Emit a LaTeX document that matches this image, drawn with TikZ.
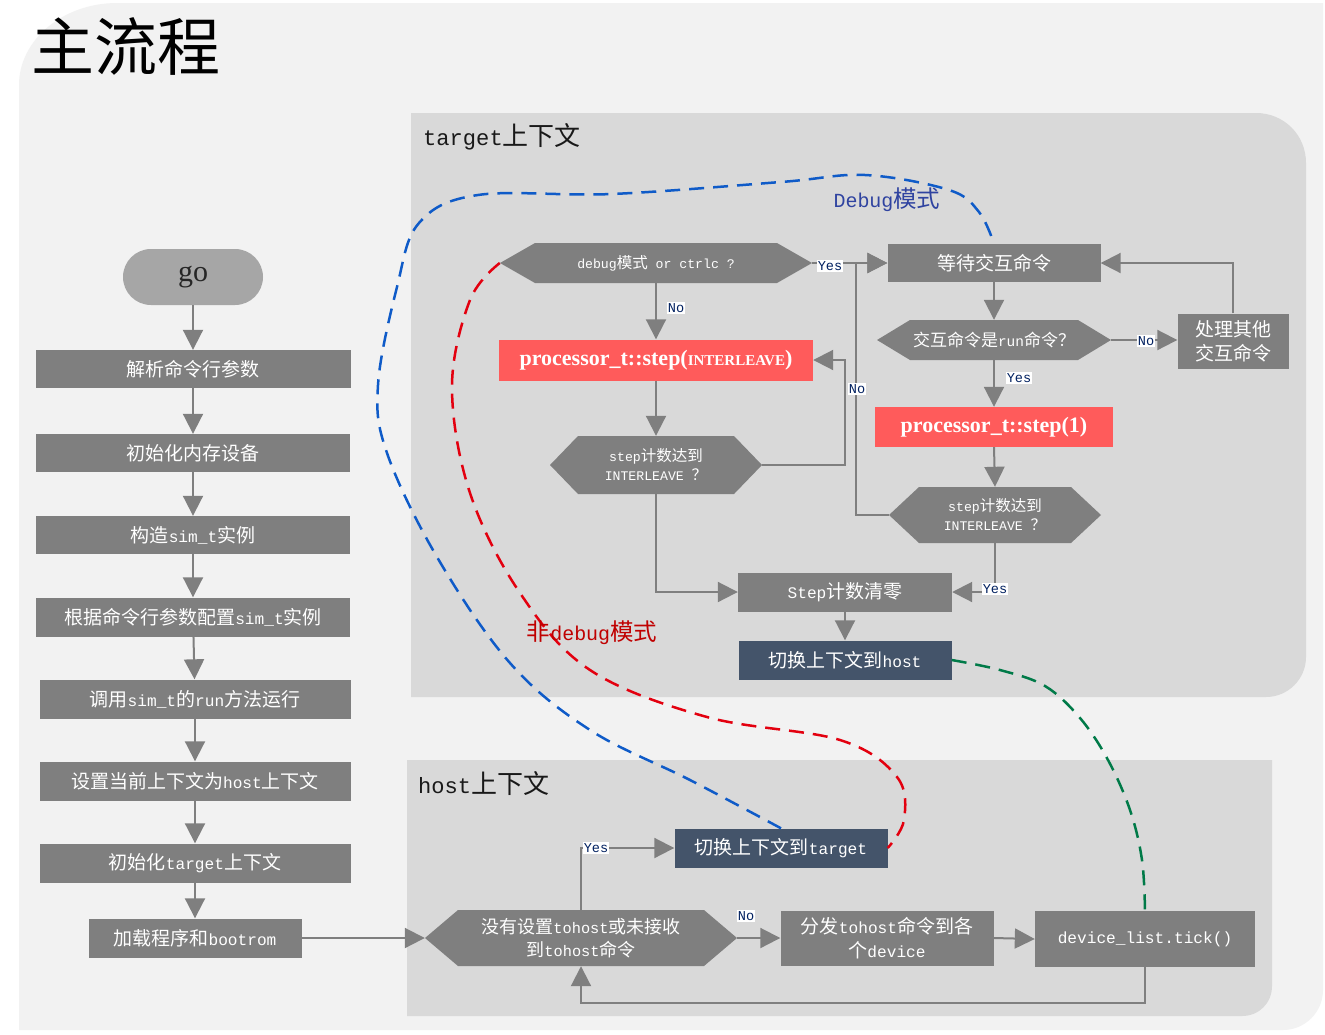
\documentclass[tikz,border=0pt]{standalone}
\usepackage{fontspec}
\setmainfont{Liberation Mono}[Scale=0.85]
\newfontfamily\cjk{Noto Sans CJK SC}
\newfontfamily\serifr{Liberation Serif}
\usetikzlibrary{arrows.meta}
% automatic CJK font switching
\XeTeXinterchartokenstate=1
\newXeTeXintercharclass\CJKcls
\count255="3000
\loop\ifnum\count255<"3040 \XeTeXcharclass\count255=\CJKcls \advance\count255 by 1 \repeat
\count255="4E00
\loop\ifnum\count255<"A000 \XeTeXcharclass\count255=\CJKcls \advance\count255 by 1 \repeat
\count255="FF00
\loop\ifnum\count255<"FF70 \XeTeXcharclass\count255=\CJKcls \advance\count255 by 1 \repeat
\XeTeXinterchartoks 0 \CJKcls = {\cjk}
\XeTeXinterchartoks 4095 \CJKcls = {\cjk}
\XeTeXinterchartoks \CJKcls 0 = {\rmfamily}
\XeTeXinterchartoks \CJKcls 4095 = {\rmfamily}

\definecolor{outerbg}{HTML}{F2F2F2}
\definecolor{panel}{HTML}{D9D9D9}
\definecolor{boxgray}{HTML}{7F7F7F}
\definecolor{linegray}{HTML}{7F7F7F}
\definecolor{redfill}{HTML}{FF5B5B}
\definecolor{darkblue}{HTML}{44546A}
\definecolor{pillgray}{HTML}{A6A6A6}
\definecolor{dblue}{HTML}{0F5BC8}
\definecolor{dred}{HTML}{E3000F}
\definecolor{dgreen}{HTML}{007A48}
\definecolor{lblblue}{HTML}{2F43A0}
\definecolor{lblred}{HTML}{C00000}
\definecolor{ynblue}{HTML}{002060}

\newcommand\hexnode[8]{%
  \fill[boxgray] (#3-#5,#4) -- (#3-#5+#7,#4-#6) -- (#3+#5-#7,#4-#6) -- (#3+#5,#4)
     -- (#3+#5-#7,#4+#6) -- (#3-#5+#7,#4+#6) -- cycle;
  \pgfmathsetmacro\hexw{2*#5}\pgfmathsetmacro\hexh{2*#6}%
  \node[hextext, font=#1, minimum width=\hexw pt, minimum height=\hexh pt] (#2) at (#3,#4) {#8};}

\begin{document}
\begin{tikzpicture}[x=1pt,y=-1pt,
  box/.style={fill=boxgray, text=white, inner sep=2pt, align=center,
    font=\fontsize{19}{24}\selectfont},
  redbox/.style={box, fill=redfill},
  bluebox/.style={box, fill=darkblue},
  hextext/.style={text=white, inner sep=0pt, align=center},
  pill/.style={fill=pillgray, rounded corners=28pt, minimum width=140pt, minimum height=56pt,
    font=\serifr\fontsize{30}{30}\selectfont, text=black!85},
  conn/.style={draw=linegray, line width=2pt, -{Triangle[length=20pt,width=20pt]}},
  yn/.style={fill=white, text=ynblue, inner sep=1pt, font=\fontsize{16}{16}\selectfont},
  ctxtitle/.style={anchor=west, inner sep=0pt, text=black!90, font=\fontsize{26}{26}\selectfont},
  dashblue/.style={draw=dblue, line width=2.5pt, dash pattern=on 15pt off 9pt},
  dashred/.style={draw=dred, line width=2.5pt, dash pattern=on 15pt off 9pt},
  dashgreen/.style={draw=dgreen, line width=2.5pt, dash pattern=on 15pt off 9pt},
]
\useasboundingbox (0,0) rectangle (1325,1034);
\fill[white] (0,0) rectangle (1325,1034);
% outer panel
\fill[outerbg] (19,85) .. controls (19,40) and (63,3) .. (117,3) -- (1323,3) -- (1323,990)
   .. controls (1323,1012) and (1305,1030) .. (1283,1030) -- (19,1030) -- cycle;
% target panel
\fill[panel] (411,113) -- (1256,113) .. controls (1284,113) and (1306,135) .. (1306,163)
   -- (1306,657) .. controls (1306,679) and (1288,697) .. (1266,697) -- (411,697) -- cycle;
% host panel
\fill[panel] (407,760) -- (1272,760) -- (1272,986) .. controls (1272,1003) and (1259,1016) .. (1242,1016)
   -- (407,1016) -- cycle;

% titles
\node[anchor=west, inner sep=0pt, text=black, font=\fontsize{63}{63}\selectfont] (title) at (31,46) {主流程};
\node[ctxtitle] (tgttitle) at (423,137) {target上下文};
\node[ctxtitle] (hosttitle) at (418,784) {host上下文};

% main column
\node[pill] (go) at (193,277) {go};
\node[box, minimum width=315pt, minimum height=38pt] (n1) at (193,369) {解析命令行参数};
\node[box, minimum width=314pt, minimum height=38pt] (n2) at (193,453) {初始化内存设备};
\node[box, minimum width=314pt, minimum height=38pt] (n3) at (193,535) {构造sim\_t实例};
\node[box, minimum width=314pt, minimum height=39pt] (n4) at (193,617) {根据命令行参数配置sim\_t实例};
\node[box, minimum width=311pt, minimum height=39pt] (n5) at (195,699) {调用sim\_t的run方法运行};
\node[box, minimum width=311pt, minimum height=39pt] (n6) at (195,781) {设置当前上下文为host上下文};
\node[box, minimum width=311pt, minimum height=39pt] (n7) at (195,863) {初始化target上下文};
\node[box, minimum width=213pt, minimum height=39pt] (n8) at (195,938) {加载程序和bootrom};

% target context
\hexnode{\fontsize{15.5}{19}\selectfont}{d1}{656}{263}{156}{20}{35}{debug模式 or ctrlc ?}
\node[redbox, minimum width=314pt, minimum height=41pt, font=\serifr\bfseries\fontsize{22}{22}\selectfont] (p1) at (656,360)
  {processor\_t::step({\fontsize{15}{15}\selectfont INTERLEAVE})};
\hexnode{\fontsize{15.5}{19}\selectfont}{s1}{656}{465}{106}{29}{28}{step计数达到\\INTERLEAVE ？}
\node[box, minimum width=213pt, minimum height=38pt] (wait) at (994,263) {等待交互命令};
\hexnode{\fontsize{17}{20}\selectfont}{q}{994}{340}{117}{20}{33}{交互命令是run命令？}
\node[box, minimum width=111pt, minimum height=55pt] (other) at (1233,341) {处理其他\\交互命令};
\node[redbox, minimum width=238pt, minimum height=40pt, font=\serifr\bfseries\fontsize{22}{22}\selectfont] (p2) at (994,427)
  {processor\_t::step(1)};
\hexnode{\fontsize{15.5}{19}\selectfont}{s2}{995}{515}{106}{28}{30}{step计数达到\\INTERLEAVE ？}
\node[box, minimum width=214pt, minimum height=39pt] (clear) at (845,592) {Step计数清零};
\node[bluebox, minimum width=213pt, minimum height=39pt] (hostsw) at (845,660) {切换上下文到host};

% host context
\hexnode{\fontsize{18}{23}\selectfont}{h}{581}{938}{156}{28}{33}{没有设置tohost或未接收\\到tohost命令}
\node[bluebox, minimum width=213pt, minimum height=39pt] (tt) at (781,848) {切换上下文到target};
\node[box, minimum width=213pt, minimum height=55pt, font=\fontsize{19}{24}\selectfont] (dist) at (887,938) {分发tohost命令到各\\个device};
\node[box, minimum width=220pt, minimum height=56pt] (tick) at (1145,939) {device\_list.tick()};

% connectors main column
\draw[conn] (go) -- (n1);
\draw[conn] (n1) -- (n2);
\draw[conn] (n2) -- (n3);
\draw[conn] (n3) -- (n4);
\draw[conn] (n4) -- (n5);
\draw[conn] (n5) -- (n6);
\draw[conn] (n6) -- (n7);
\draw[conn] (n7) -- (n8);
\draw[conn] (n8.east) -- (h.west);

% connectors target
\draw[conn] (d1.south) -- (p1.north);
\draw[conn] (p1.south) -- (s1.north);
\draw[conn] (s1.east) -- ++(83,0) |- (p1.east);
\draw[conn] (d1.east) -- (wait.west);
\draw[conn] (s2.west) -- ++(-33,0) |- (wait.west);
\draw[conn] (wait.south) -- (q.north);
\draw[conn] (q.east) -- (q.east -| other.west);
\draw[conn] (other.north) |- (wait.east);
\draw[conn] (q.south) -- (p2.north);
\draw[conn] (p2.south) -- (s2.north);
\draw[conn] (s2.south) |- (clear.east);
\draw[conn] (s1.south) |- (clear.west);
\draw[conn] (clear.south) -- (hostsw.north);

% connectors host
\draw[conn] (h.north) |- (tt.west);
\draw[conn] (h.east) -- (dist.west);
\draw[conn] (dist.east) -- (tick.west);
\draw[conn] (tick.south) -- ++(0,36) -| (h.south);

% yes / no labels
\node[yn] (y1) at (830,266) {Yes};
\node[yn] (no1) at (676,308) {No};
\node[yn] (no2) at (857,389) {No};
\node[yn] (no3) at (1146,341) {No};
\node[yn] (y2) at (1019,378) {Yes};
\node[yn] (y3) at (995,589) {Yes};
\node[yn] (y4) at (596,848) {Yes};
\node[yn] (no4) at (746,916) {No};

% dashed transitions
\draw[dashblue] plot[smooth, tension=0.6] coordinates {(tt.north) (690,780) (590,730) (510,663) (437,557)
  (387,453) (378,385) (397,287) (419,223) (478,195) (612,194) (781,182) (865,175) (949,190) (979,212) (wait.north)};
\draw[dashred] plot[smooth, tension=0.6] coordinates {(d1.west) (470,300) (452,387) (470,493) (520,593)
  (590,670) (707,717) (840,740) (897,777) (904,820) (tt.east)};
\draw[dashgreen] plot[smooth, tension=0.6] coordinates {(hostsw.east) (1000,670) (1045,686) (1080,718)
  (1108,760) (1130,810) (1142,860) (tick.north)};
\node[text=lblblue, font=\fontsize{23.5}{24}\selectfont, inner sep=0pt] (dbg) at (887,200) {Debug模式};
\node[text=lblred, font=\fontsize{23.5}{24}\selectfont, inner sep=0pt] (ndbg) at (592,633) {非debug模式};
\end{tikzpicture}
\end{document}
